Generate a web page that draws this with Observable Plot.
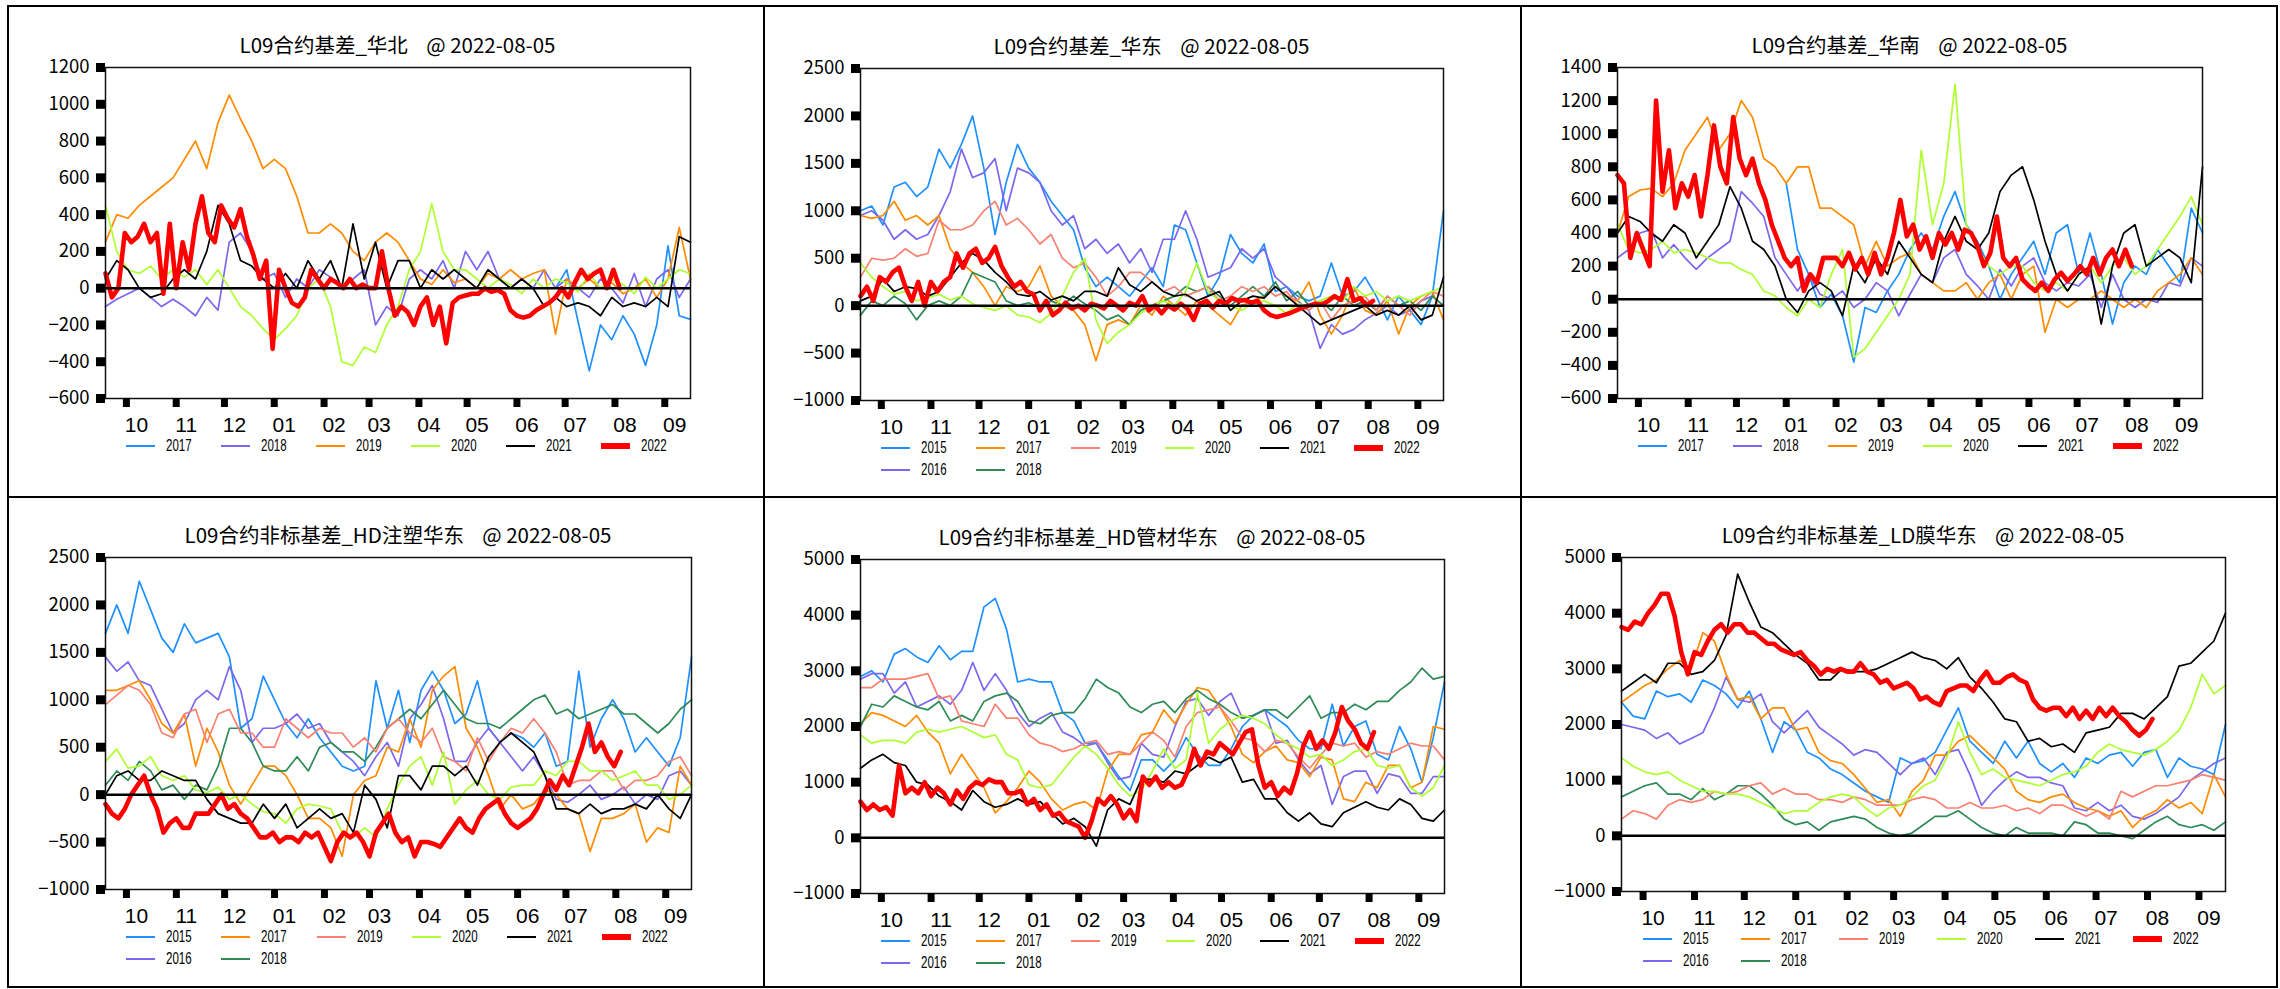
<!DOCTYPE html>
<html lang="zh-CN">
<head>
<meta charset="utf-8">
<title>L09合约基差</title>
<script src="https://cdn.jsdelivr.net/npm/d3@7"></script>
<script src="https://cdn.jsdelivr.net/npm/@observablehq/plot@0.6"></script>
<style>
  html, body { margin: 0; padding: 0; background: #fff; }
  body { width: 2280px; height: 989px; position: relative; overflow: hidden;
         font-family: "Noto Sans CJK SC", "Noto Sans", sans-serif; color: #000; }
  .rule { position: absolute; background: #000; }
  .title { position: absolute; transform: translate(-50%, -50%); font-size: 20.5px;
           white-space: pre; line-height: 1; }
  .panel { position: absolute; }
  .panel svg { overflow: visible; }
  .item { position: absolute; height: 14px; width: 90px; }
  .swatch { position: absolute; left: 0; width: 29px; }
  .label { position: absolute; display: block; left: 40px; top: 0; height: 14px; line-height: 14px;
           font-family: "Liberation Sans", Arial, sans-serif; font-size: 16px;
           transform: scaleX(0.72); transform-origin: left center; white-space: nowrap; }
</style>
</head>
<body>
<script>
// ---- season axis: mid-September to mid-September ----
const seasonStart = new Date(Date.UTC(2021, 8, 18));
const seasonEnd = new Date(Date.UTC(2022, 8, 17));
const monthTicks = ["2021-10-01","2021-11-01","2021-12-01","2022-01-01","2022-02-01","2022-03-01",
                    "2022-04-01","2022-05-01","2022-06-01","2022-07-01","2022-08-01","2022-09-01"];
const monthLabels = ["10","11","12","01","02","03","04","05","06","07","08","09"];
const weekStep = 7;   // history years: one reading a week
const dayStep2022 = 4; // current year: one reading every four days

// ---- legend years and colours ----
const years6 = ["2017","2018","2019","2020","2021","2022"];
const colors6 = ["#1E90FF","#7B68EE","#FF8C00","#ADFF2F","#000000","#FF0000"];
const years8 = ["2015","2016","2017","2018","2019","2020","2021","2022"];
const colors8 = ["#1E90FF","#7B68EE","#FF8C00","#2E8B57","#FA8072","#ADFF2F","#000000","#FF0000"];

// ---- y tick values ----
const yTicksHB = [-600,-400,-200,0,200,400,600,800,1000,1200];
const yTicksHD = [-1000,-500,0,500,1000,1500,2000,2500];
const yTicksHN = [-600,-400,-200,0,200,400,600,800,1000,1200,1400];
const yTicksZS = [-1000,-500,0,500,1000,1500,2000,2500];
const yTicksGC = [-1000,0,1000,2000,3000,4000,5000];
const yTicksLM = [-1000,0,1000,2000,3000,4000,5000];

// ---- 华北 ----
const hb2017FirstWeek = 40;
const hb2017 = [0,100,-180,-450,-200,-280,-150,-250,-420,-200,230,-150,-170];
const hb2018 = [-100,-60,-30,0,-50,-100,-60,-100,-150,-50,-120,250,300,200,50,80,-50,50,0,100,60,0,50,100,-200,-100,-150,50,100,50,150,0,200,100,200,50,0,50,0,100,0,50,0,-50,50,0,-80,80,-100,50,100,-50,50];
const hb2019 = [250,400,380,450,500,550,600,700,800,650,900,1050,920,800,650,700,650,500,300,300,350,300,200,150,250,300,250,150,50,20,100,30,50,0,80,50,100,50,80,100,-250,50,0,50,0,30,-30,0,50,-50,50,330,50];
const hb2020 = [450,200,100,80,120,50,100,60,100,20,100,0,-100,-150,-220,-280,-220,-150,0,50,-100,-400,-420,-320,-350,-200,-100,100,200,460,200,100,100,50,0,50,20,-30,50,0,50,30,-20,80,0,50,20,-30,60,0,50,100,80];
const hb2021 = [50,150,100,0,-50,-30,50,100,50,200,450,350,150,120,50,0,80,0,150,50,150,0,350,50,250,0,150,150,0,100,50,100,50,0,100,50,0,50,0,-100,-50,-100,-80,-100,-150,-50,-100,-80,-100,-50,-100,280,250];
const hb2022 = [80,-50,0,300,250,280,350,250,300,-30,350,0,250,100,350,500,300,250,450,380,330,430,280,180,50,150,-330,100,0,-80,-100,-50,100,50,0,50,30,0,50,0,20,0,0,200,0,-150,-100,-130,-200,-100,-50,-200,-100,-300,-80,-50,-40,-30,-30,0,-20,-10,-30,-120,-150,-160,-150,-120,-100,-80,-50,0,-50,30,100,50,80,100,0,100,0];

// ---- 华东 ----
const hd2015 = [1000,1050,850,1250,1300,1150,1250,1650,1450,1700,2000,1450,750,1300,1700,1450,1300,1100,950,800,400,200,300,200,100,250,400,200,850,800,450,100,300,750,550,450,650,150,200,100,50,100,450,100,150,300,100,-150,100,-50,-200,100,1000];
const hd2016 = [950,1000,900,700,800,700,750,950,1200,1650,1350,1400,1550,1000,1450,1400,1300,1000,850,950,600,700,550,650,450,600,350,700,700,1000,700,300,350,400,600,500,600,300,200,50,-50,-450,-200,-300,-250,-150,-80,0,-100,-50,50,100,0];
const hd2017 = [950,920,950,1100,900,950,850,950,600,450,350,200,0,200,150,200,420,100,0,-50,-200,-580,-200,-150,-200,0,-100,100,0,-100,50,0,-100,-200,0,50,100,200,100,50,250,-100,-300,-100,200,-50,-100,50,-300,0,100,150,-150];
const hd2018 = [-100,50,0,100,20,-150,0,50,0,100,350,300,250,50,0,30,-20,50,0,100,20,-50,-150,-100,-200,-50,0,50,100,200,150,200,100,0,100,200,100,250,50,150,0,50,-50,100,0,50,-50,100,0,50,-50,100,0];
const hd2019 = [300,500,480,500,600,520,550,900,800,800,850,1000,1100,850,920,800,650,750,500,400,450,300,100,200,350,350,250,150,200,100,150,200,50,100,200,150,200,100,150,0,-50,50,-150,0,50,100,-50,100,0,-100,50,150,100];
const hd2020 = [450,300,200,120,150,50,80,120,60,100,20,-20,-50,0,-100,-120,-180,-80,100,350,500,-150,-400,-280,-200,-80,0,50,0,150,450,150,50,0,-50,20,50,0,-80,20,0,50,100,50,200,100,150,50,100,50,100,150,200];
const hd2021 = [50,100,280,150,200,180,100,150,300,450,550,480,350,250,120,100,150,60,100,50,150,150,100,400,220,150,250,150,100,120,50,100,150,-50,50,100,80,200,100,0,-100,-200,-150,-100,-50,0,-100,-50,-100,0,-150,-100,300];
const hd2022 = [100,200,50,300,250,350,400,200,50,250,0,250,150,250,300,550,400,550,600,450,500,620,420,300,200,250,150,120,-50,50,-100,-50,30,-30,0,-50,20,0,-30,50,0,-50,30,0,100,-50,0,-80,0,-40,20,-30,-150,20,50,-20,50,20,80,50,60,30,50,-50,-100,-120,-100,-80,-50,-20,0,20,10,50,100,60,280,50,80,0,50];

// ---- 华南 ----
const hn2017FirstWeek = 15;
const hn2017 = [700,300,150,-50,30,-100,-380,-50,-80,50,150,300,400,300,500,650,450,350,200,0,150,250,350,150,400,450,150,400,150,-150,100,200,150,300,200,100,550,400];
const hn2018 = [250,300,400,420,250,330,250,180,250,300,350,650,580,500,250,150,50,150,30,0,50,-50,0,100,50,-100,30,150,100,250,300,150,80,0,180,80,200,250,100,50,100,80,150,-50,150,0,-50,0,-20,100,80,250,200];
const hn2019 = [400,620,660,670,620,700,900,1000,1100,900,1000,1200,1100,850,800,700,800,800,550,550,500,450,200,350,200,250,280,150,100,50,50,100,0,100,150,0,150,200,-200,0,-50,0,0,50,0,-50,0,-50,50,100,150,250,150];
const hn2020 = [450,300,280,300,350,280,300,280,250,220,220,180,150,50,20,-50,-100,0,-50,150,300,-350,-300,-200,-100,0,150,900,450,700,1300,450,300,200,150,200,200,100,50,100,50,150,200,100,200,250,150,200,300,400,500,620,450];
const hn2021 = [400,500,470,400,350,450,400,250,350,450,680,550,350,300,200,0,-80,50,100,50,-100,200,100,250,150,350,250,150,100,350,500,350,300,400,650,750,800,600,350,150,50,150,200,-150,200,400,450,200,250,300,250,100,800];
const hn2022 = [750,700,250,400,300,200,1200,650,900,550,700,620,750,500,750,1050,800,700,1100,850,750,850,700,600,450,350,250,200,250,50,150,100,250,250,250,200,280,180,250,150,280,150,250,400,600,380,450,300,380,250,400,330,400,300,420,400,320,200,280,500,250,200,250,120,80,50,100,50,120,160,110,150,200,150,250,150,250,300,200,300,200];

// ---- HD注塑华东 ----
const zs2015 = [1700,2000,1700,2250,1950,1650,1500,1800,1600,1650,1700,1450,700,800,1250,1000,750,600,800,600,450,300,250,300,1200,700,1100,550,1100,1300,1100,750,850,1200,700,550,650,600,500,650,300,350,1300,500,800,1000,800,450,600,450,300,600,1450];
const zs2016 = [1450,1300,1400,1200,1150,900,650,750,1000,1100,1000,1350,1100,550,700,700,750,850,700,750,550,450,350,200,400,550,300,800,950,1150,800,350,350,550,700,550,400,250,400,200,-50,-80,0,100,-50,0,80,-100,0,-50,200,250,100];
const zs2017 = [1100,1100,1150,1200,1000,750,650,850,300,700,450,100,-100,100,300,300,200,0,-250,-250,-350,-650,0,150,200,500,450,800,500,1100,1250,1350,700,500,200,-150,0,-150,-100,50,0,-150,-200,-600,-250,-250,-200,-100,-500,-350,-400,300,100];
const zs2018 = [100,250,150,350,250,50,100,-50,100,50,300,700,700,550,300,250,250,400,250,500,550,450,450,350,500,700,800,900,800,950,1100,950,800,750,750,700,800,900,1000,1050,850,900,800,850,900,950,850,850,750,650,750,900,1000];
const zs2019 = [950,1050,1150,1100,950,650,600,850,900,550,850,900,650,650,500,500,800,700,600,700,650,650,500,600,450,700,800,650,550,700,400,350,250,600,350,550,700,650,800,650,450,100,150,150,250,250,50,150,150,200,350,400,200];
const zs2020 = [350,480,280,300,400,200,150,200,50,20,80,-50,0,-100,-180,-200,-300,-150,-100,-120,-150,-400,-450,-350,-450,-150,100,300,400,100,450,-100,50,150,0,-50,80,100,100,250,200,350,350,250,250,150,200,250,100,100,-50,0,100];
const zs2021 = [0,200,250,150,150,250,200,150,150,-50,-200,-250,-300,-300,-100,-250,-100,-350,-250,-150,-250,-200,-400,100,-50,-350,200,200,50,300,300,200,300,100,400,550,650,550,450,200,-150,-150,-200,-100,-200,-150,-150,-100,-150,0,-150,-250,0];
const zs2022 = [-100,-200,-250,-150,0,100,200,0,-150,-400,-300,-250,-350,-350,-200,-200,-200,-100,0,-150,-100,-200,-250,-350,-450,-450,-400,-500,-450,-450,-500,-400,-450,-400,-550,-700,-500,-400,-450,-400,-500,-650,-400,-300,-200,-400,-500,-450,-650,-500,-500,-520,-550,-450,-350,-250,-350,-400,-250,-150,-100,-50,-200,-300,-350,-300,-250,-150,0,150,50,200,100,300,500,750,450,550,400,300,450];

// ---- HD管材华东 ----
const gc2015 = [2900,3000,2800,3300,3400,3250,3150,3450,3200,3350,3350,4150,4300,3750,2800,2850,2800,2800,2250,2100,1700,1700,1400,1100,850,1400,1400,1200,1400,1800,1500,1300,1300,1600,2000,2200,2300,2150,2000,1750,1600,1600,2400,1650,2000,2100,1500,1400,2000,1600,1000,1800,2800];
const gc2016 = [2850,2950,2950,2600,2800,2350,2450,2550,2400,2650,3150,2650,2950,2650,2250,2000,2150,2250,1900,1800,1650,1700,1350,1050,1100,1700,1500,1450,2000,2450,2500,2200,2450,2600,2150,2200,2300,1700,1750,1400,1150,1300,600,1100,1200,1200,800,1150,1100,800,800,1100,1100];
const gc2017 = [2050,2250,2200,2100,2000,2200,1900,1700,1150,1500,1200,900,450,650,900,1200,1000,700,500,600,650,500,1200,1500,1500,1850,1900,2300,2050,2400,2700,2650,2350,2000,1500,1350,1550,1650,1400,1350,1100,1450,1400,700,650,1000,900,1300,1300,900,1000,2000,1950];
const gc2018 = [2000,2400,2350,2550,2450,2350,2300,2450,2100,2200,2100,2450,2550,2600,2450,2100,2050,2200,2250,2250,2500,2850,2700,2600,2350,2250,2400,2450,2250,2500,2650,2500,2400,2250,2150,2200,2300,2300,2150,2350,2550,2150,2250,2250,2400,2300,2450,2450,2650,2800,3050,2850,2900];
const gc2019 = [2700,2700,2850,2850,2850,2900,2950,2500,2550,2100,2050,2000,2400,2150,2150,1850,1700,1650,1550,1600,1700,1750,1500,1550,1500,1700,1900,1750,1450,2000,2250,2300,2350,2100,1800,1750,1550,1750,1700,1450,1250,1500,1700,1650,1700,1450,1550,1500,1600,1700,1650,1650,1400];
const gc2020 = [1850,1700,1750,1750,1700,1900,1950,1900,1950,2000,1900,1800,1850,1500,1400,950,900,950,1200,1450,1650,1500,1250,950,750,850,1200,1600,1250,1400,2600,1700,1950,2100,2200,2150,2050,1850,1700,1600,1450,1500,1300,1400,1550,1600,1300,1250,1300,900,750,900,1300];
const gc2021 = [1250,1400,1500,1350,1300,1000,950,750,650,500,850,650,550,600,700,600,650,450,250,350,200,-150,500,700,600,1050,1050,1000,1200,1150,1300,1450,1350,1450,1000,1050,700,700,450,300,450,250,200,450,550,650,550,500,700,600,350,300,500];
const gc2022 = [650,500,600,500,550,400,1300,800,900,800,1000,750,900,800,600,850,700,900,1000,950,1050,1000,1000,800,800,850,600,700,500,600,400,450,300,250,200,0,300,700,600,750,600,350,500,300,1100,950,1100,900,1000,900,950,1200,1600,1300,1550,1500,1700,1600,1500,1700,1900,1950,1300,900,1000,750,900,800,1150,1650,1900,1600,1750,1600,1900,2350,2100,1950,1700,1600,1900];

// ---- LD膜华东 ----
const lm2015 = [2400,2150,2100,2600,2500,2550,2400,2800,2700,2550,2300,2600,2100,1500,2050,1900,1500,1400,1200,1100,950,800,700,600,1400,1300,1350,1500,1900,2300,1700,1500,1300,1700,1400,1700,1300,1150,1300,1050,1400,1300,1450,1500,1250,1500,1550,1050,1400,1250,1200,1100,2000];
const lm2016 = [2000,1950,1900,1750,1850,1650,1750,1850,2300,2850,2450,2400,2550,2050,1850,2050,2250,1950,1800,1650,1450,1550,1500,1300,1100,1300,1400,1100,1500,1550,1100,550,800,1000,1150,1050,1050,950,900,500,450,600,450,550,350,300,400,550,700,1000,1150,1300,1400];
const lm2017 = [2400,2550,2700,2800,3000,3150,3000,3650,3500,2900,2450,2500,2100,2300,2300,1900,1950,1500,1350,1300,1100,850,600,650,350,800,1000,1450,1450,1700,1800,1600,1400,1200,800,650,600,700,750,600,500,450,350,450,150,350,450,650,500,600,400,1100,700];
const lm2018 = [700,800,900,950,750,750,650,850,650,750,900,900,750,550,300,200,250,100,250,300,350,300,150,50,0,50,200,350,350,450,300,150,50,0,150,50,50,50,0,250,200,50,50,0,-50,100,250,350,200,150,200,100,250];
const lm2019 = [300,450,400,300,550,650,600,650,800,750,800,900,950,750,850,750,750,650,650,600,700,650,550,550,550,650,700,650,500,500,600,500,500,550,450,500,400,550,550,450,350,450,300,800,700,800,900,900,950,1000,1100,1050,1000];
const lm2020 = [1400,1250,1150,1100,1150,1000,900,800,800,750,750,700,600,500,400,450,450,600,700,750,700,500,350,500,550,700,900,1000,1400,2050,1500,1100,1200,1050,1000,950,900,1000,1100,1150,1250,1500,1650,1550,1500,1450,1550,1700,1900,2300,2900,2550,2700];
const lm2021 = [2600,2750,2900,2750,3100,3100,2900,2950,3150,3600,4700,4200,3750,3650,3450,3250,3100,2800,2800,3000,2950,2950,3000,3100,3200,3300,3200,3150,3000,3200,2850,2650,2400,2100,2050,1700,1750,1600,1650,1500,1850,1900,1950,2200,2200,2100,2300,2500,3050,3100,3300,3500,4000];
const lm2022 = [3750,3700,3850,3800,4000,4150,4350,4350,3950,3300,2900,3300,3250,3500,3700,3800,3650,3800,3800,3650,3650,3550,3450,3450,3350,3300,3250,3300,3150,3050,2900,3000,2950,3000,2950,2950,3100,2950,2900,2750,2800,2650,2700,2750,2650,2450,2500,2400,2350,2600,2650,2700,2700,2600,2800,2950,2750,2750,2850,2900,2800,2750,2450,2300,2250,2300,2300,2150,2300,2100,2250,2100,2300,2150,2300,2150,2050,1900,1800,1900,2100];

// ---- panels: title, series, ticks and plot-frame placement on the page ----
const panels = [
  { title: "L09合约基差_华北    @ 2022-08-05", years: years6, colors: colors6, yTicks: yTicksHB,
    series: [[hb2017, hb2017FirstWeek], [hb2018], [hb2019], [hb2020], [hb2021], [hb2022]],
    frame: { L: 105, R: 690, T: 67, B: 398 } },
  { title: "L09合约基差_华东    @ 2022-08-05", years: years8, colors: colors8, yTicks: yTicksHD,
    series: [[hd2015], [hd2016], [hd2017], [hd2018], [hd2019], [hd2020], [hd2021], [hd2022]],
    frame: { L: 860, R: 1443, T: 68, B: 400 } },
  { title: "L09合约基差_华南    @ 2022-08-05", years: years6, colors: colors6, yTicks: yTicksHN,
    series: [[hn2017, hn2017FirstWeek], [hn2018], [hn2019], [hn2020], [hn2021], [hn2022]],
    frame: { L: 1617, R: 2202, T: 67, B: 398 } },
  { title: "L09合约非标基差_HD注塑华东    @ 2022-08-05", years: years8, colors: colors8, yTicks: yTicksZS,
    series: [[zs2015], [zs2016], [zs2017], [zs2018], [zs2019], [zs2020], [zs2021], [zs2022]],
    frame: { L: 105, R: 691, T: 557, B: 889 } },
  { title: "L09合约非标基差_HD管材华东    @ 2022-08-05", years: years8, colors: colors8, yTicks: yTicksGC,
    series: [[gc2015], [gc2016], [gc2017], [gc2018], [gc2019], [gc2020], [gc2021], [gc2022]],
    frame: { L: 860, R: 1444, T: 559, B: 893 } },
  { title: "L09合约非标基差_LD膜华东    @ 2022-08-05", years: years8, colors: colors8, yTicks: yTicksLM,
    series: [[lm2015], [lm2016], [lm2017], [lm2018], [lm2019], [lm2020], [lm2021], [lm2022]],
    frame: { L: 1621, R: 2225, T: 557, B: 891 } }
];

const tickDates = monthTicks.map(s => new Date(s + "T00:00:00Z"));
const labelOf = new Map(tickDates.map((d, i) => [+d, monthLabels[i]]));
const fmtY = v => (v < 0 ? "\u2212" + Math.abs(v) : String(v));

function rows(values, step, first = 0) {
  return values.map((v, i) => ({ date: d3.utcDay.offset(seasonStart, (first + i) * step), value: v }));
}

function addRule(x, y, w, h) {
  const d = document.createElement("div");
  d.className = "rule";
  Object.assign(d.style, { left: x + "px", top: y + "px", width: w + "px", height: h + "px" });
  document.body.appendChild(d);
}

// table grid around the six charts
[5, 496, 986].forEach(y => addRule(7, y, 2271, 2));
[7, 763, 1520, 2276].forEach(x => addRule(x, 5, 2, 983));

const M = { left: 72, right: 14, top: 14, bottom: 50 };

panels.forEach(p => {
  const { L, R, T, B } = p.frame;
  const W = R - L, H = B - T;

  const marks = [];
  p.series.forEach(([values, first], j) => {
    const current = p.years[j] === "2022";
    marks.push(Plot.line(rows(values, current ? dayStep2022 : weekStep, first || 0), {
      x: "date", y: "value", stroke: p.colors[j], strokeWidth: current ? 4.6 : 1.7,
      strokeLinejoin: "round", strokeLinecap: "round"
    }));
  });
  marks.push(Plot.ruleY([0], { stroke: "#000", strokeWidth: 2.5 }));
  marks.push(Plot.frame({ stroke: "#111", strokeWidth: 1.5 }));
  // y axis: square tick marks and their labels
  marks.push(Plot.axisY({ ticks: p.yTicks, tickSize: 9, strokeWidth: 9, tickPadding: 7,
                          tickFormat: fmtY, fontSize: 18.5, label: null, color: "#000" }));
  // x axis: square tick marks at month starts ...
  marks.push(Plot.axisX({ ticks: tickDates, tickSize: 9, strokeWidth: 7, fill: "none",
                          label: null, stroke: "#000" }));
  // ... and month numbers set just right of each mark
  marks.push(Plot.axisX({ ticks: tickDates, tickSize: 0, tickPadding: 19, dx: 10,
                          tickFormat: d => labelOf.get(+d), fontSize: 21,
                          fontFamily: '"Liberation Sans", Arial, sans-serif',
                          label: null, fill: "#000" }));

  const svg = Plot.plot({
    width: W + M.left + M.right,
    height: H + M.top + M.bottom,
    marginLeft: M.left, marginRight: M.right, marginTop: M.top, marginBottom: M.bottom,
    x: { type: "utc", domain: [seasonStart, seasonEnd] },
    y: { domain: [p.yTicks[0], p.yTicks[p.yTicks.length - 1]] },
    style: { fontFamily: '"Noto Sans CJK SC", "Noto Sans", sans-serif', background: "transparent",
             color: "#000", overflow: "visible" },
    marks
  });
  const holder = document.createElement("div");
  holder.className = "panel";
  holder.style.left = (L - M.left) + "px";
  holder.style.top = (T - M.top) + "px";
  holder.appendChild(svg);
  document.body.appendChild(holder);

  // title above the frame
  const t = document.createElement("div");
  t.className = "title";
  t.textContent = p.title;
  t.style.left = ((L + R) / 2) + "px";
  t.style.top = (T - 23) + "px";
  document.body.appendChild(t);

  // legend below the axis: six columns, filled column by column
  const ncol = 6, n = p.years.length;
  const base = Math.floor(n / ncol), extra = n % ncol;
  const colW = W * 0.1623, x0 = L + W * 0.0365;
  let idx = 0;
  for (let c = 0; c < ncol && idx < n; c++) {
    const count = base + (c < extra ? 1 : 0);
    for (let r = 0; r < count && idx < n; r++, idx++) {
      const item = document.createElement("div");
      item.className = "item";
      item.style.left = (x0 + c * colW) + "px";
      item.style.top = (B + 48 + r * 22 - 7) + "px";
      const current = p.years[idx] === "2022";
      const sw = document.createElement("div");
      sw.className = "swatch";
      const h = current ? 6 : 2.5;
      sw.style.height = h + "px";
      sw.style.top = (7 - h / 2) + "px";
      sw.style.background = p.colors[idx];
      const lb = document.createElement("span");
      lb.className = "label";
      lb.textContent = p.years[idx];
      item.appendChild(sw);
      item.appendChild(lb);
      document.body.appendChild(item);
    }
  }
});
</script>
</body>
</html>
